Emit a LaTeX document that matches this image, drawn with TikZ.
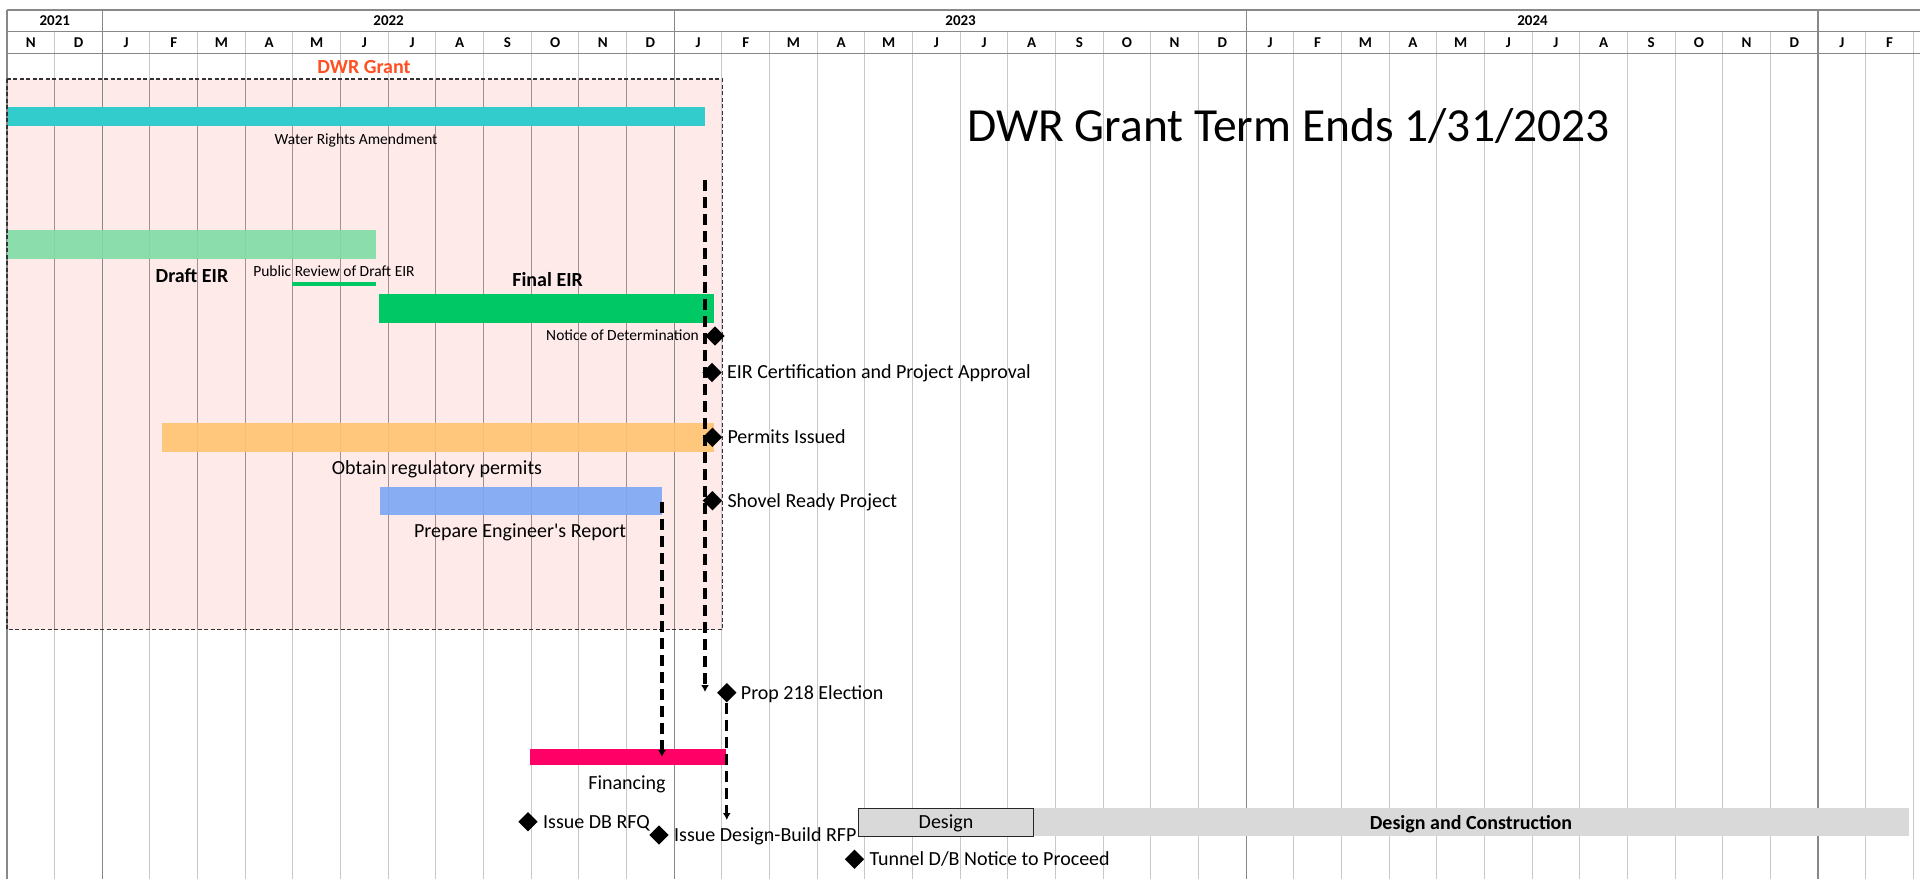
\documentclass[tikz,border=0pt]{standalone}
\usepackage{fontspec}
\setmainfont{Carlito}[Ligatures=TeXOff]
\usetikzlibrary{positioning,shapes.geometric,arrows.meta}
\definecolor{grantpink}{HTML}{FFEAEA}
\definecolor{gridlight}{HTML}{C8C8C8}
\definecolor{gridin}{HTML}{A09090}
\definecolor{gridyear}{HTML}{888888}
\definecolor{wracyan}{HTML}{33CCCC}
\definecolor{draftgreen}{HTML}{80DCA6}
\definecolor{eirgreen}{HTML}{00C864}
\definecolor{permorange}{HTML}{FFC471}
\definecolor{engblue}{HTML}{7DA7F5}
\definecolor{finpink}{HTML}{FF0066}
\definecolor{dcgray}{HTML}{D9D9D9}
\definecolor{grantred}{HTML}{FF5020}
\begin{document}
\begin{tikzpicture}
  [x=1pt,y=-1pt,every node/.style={inner sep=0pt},
   big/.style={font=\fontsize{20}{24}\selectfont,text height=13.6pt,text depth=0.8pt},
   bigb/.style={font=\bfseries\fontsize{20}{24}\selectfont,text height=13.6pt,text depth=0.8pt},
   small/.style={font=\fontsize{15.5}{18}\selectfont,text height=10.5pt,text depth=0.6pt},
   hdr/.style={font=\bfseries\fontsize{15}{18}\selectfont,text height=9.7pt,text depth=0pt},
   ms/.style={diamond,fill=black,minimum width=19.5pt,minimum height=19.5pt},
   link/.style={line width=3.2pt,dash pattern=on 11pt off 6pt,-{Latex[length=7pt,width=8pt]}}]
  \useasboundingbox (0,0) rectangle (1920,879);
  \fill[white] (0,0) rectangle (1920,879);

  % grant window and grid
  \fill[grantpink] (7,79) rectangle (722.5,629.5);
  \foreach \i in {1,...,40}
    \draw[gridlight,line width=1pt] ({7+\i*47.66},31.7) -- ({7+\i*47.66},879);
  \begin{scope}
    \clip (7,79) rectangle (722.5,629.5);
    \foreach \i in {1,...,14}
      \draw[gridin,line width=1pt] ({7+\i*47.66},79) -- ({7+\i*47.66},630);
  \end{scope}
  \foreach \i in {0,2,14,26,38}
    \draw[gridyear,line width=1.3pt] ({7+\i*47.66},10) -- ({7+\i*47.66},879);
  \foreach \y in {10,31.7,53.3}
    \draw[gridyear,line width=1.2pt] (7,\y) -- (1920,\y);

  \foreach \yr/\xc in {2021/54.8,2022/388.6,2023/960.6,2024/1532.5}
    \node (y\yr) [hdr] at (\xc,20.9) {\yr};
  \foreach \m [count=\i from 0] in {N,D,J,F,M,A,M,J,J,A,S,O,N,D,J,F,M,A,M,J,J,A,S,O,N,D,J,F,M,A,M,J,J,A,S,O,N,D,J,F}
    \node (m\i) [hdr] at ({7+(\i+0.5)*47.66},42.5) {\m};

  % bars
  \fill[wracyan] (7.5,106.7) rectangle (704.5,126);
  \fill[draftgreen,fill opacity=0.9] (7.2,230) rectangle (375.5,259.3);
  \fill[eirgreen] (379,294.3) rectangle (714,322.7);
  \fill[permorange,fill opacity=0.9] (161.7,422.7) rectangle (714,451.7);
  \fill[engblue,fill opacity=0.9] (380,487.3) rectangle (662,515);
  \fill[finpink] (529.5,749.3) rectangle (725.9,765);
  \fill[dcgray] (857.6,807.5) rectangle (1909,835.5);
  \draw[eirgreen,line width=3.3pt] (292,284) -- (376.4,284);
  \draw[black!80,line width=1.2pt,dash pattern=on 4pt off 2.5pt] (7,79) rectangle (722.5,629.5);

  \node (grant) [bigb,text=grantred] at (364,67) {DWR Grant};
  \node (term) [anchor=base west,font=\fontsize{47.5}{56}\selectfont] at (967,141.7) {DWR Grant Term Ends 1/31/2023};
  \node (wratxt) [small] at (356,139.3) {Water Rights Amendment};
  \node (drafttxt) [bigb] at (192,276) {Draft EIR};
  \node (pubtxt) [small] at (334,272) {Public Review of Draft EIR};
  \node (finaltxt) [bigb] at (547.6,280) {Final EIR};
  \node (permtxt) [big] at (437,467.7) {Obtain regulatory permits};
  \node (engtxt) [big] at (520,531) {Prepare Engineer's Report};
  \node (fintxt) [big] at (627,782.7) {Financing};
  \node (design) [big,draw=black!85,line width=1.4pt,fill=dcgray,minimum width=175.4pt,minimum height=28.3pt,anchor=north west] at (857.6,807.7) {Design};
  \node (dc) [bigb] at (1471,822.7) {Design and Construction};

  % dependencies
  \coordinate (eirtop) at (705,180);
  \coordinate (eirend) at (705,692);
  \coordinate (engend) at (662,502);
  \coordinate (finhit) at (662,757);
  \coordinate (rfpup) at (726.8,820);
  \draw[link] (eirtop) -- (eirend);
  \draw[link] (engend) -- (finhit);

  % milestones
  \node (nod) [ms] at (715,336) {};
  \node (nodtxt) [small,left=6pt of nod] {Notice of Determination};
  \node (cert) [ms] at (712,372.5) {};
  \node (certtxt) [big,right=5pt of cert] {EIR Certification and Project Approval};
  \node (perm) [ms] at (712.4,437.3) {};
  \node (permok) [big,right=5pt of perm] {Permits Issued};
  \node (shovel) [ms] at (712.4,500.7) {};
  \node (shoveltxt) [big,right=5pt of shovel] {Shovel Ready Project};
  \node (prop) [ms] at (726.8,692.7) {};
  \node (proptxt) [big,right=4pt of prop] {Prop 218 Election};
  \node (rfq) [ms] at (528,821.7) {};
  \node (rfqtxt) [big,right=5pt of rfq] {Issue DB RFQ};
  \node (rfp) [ms] at (659,835) {};
  \node (rfptxt) [big,right=5pt of rfp] {Issue Design-Build RFP};
  \node (ntp) [ms] at (854.5,859.3) {};
  \node (ntptxt) [big,right=5pt of ntp] {Tunnel D/B Notice to Proceed};
  \draw[link] (prop.south) -- (rfpup);
\end{tikzpicture}
\end{document}
